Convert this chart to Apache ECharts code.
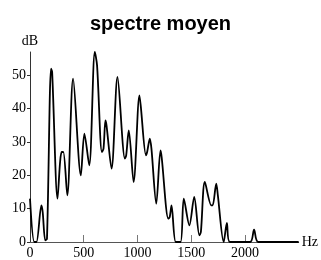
<!DOCTYPE html>
<html>
<head>
<meta charset="utf-8">
<script src="https://cdn.jsdelivr.net/npm/echarts@6/dist/echarts.min.js"></script>
<style>
  html, body { margin: 0; padding: 0; background: #fff; }
  #chart { width: 321px; height: 260px; }
  .preload { position: absolute; left: -999px; top: 0; }
</style>
</head>
<body>
<span class="preload" style="font: 14px 'Liberation Serif'">0 dB Hz</span>
<span class="preload" style="font: bold 20px 'Liberation Sans'">spectre</span>
<div id="chart"></div>
<script>
// spectre moyen : fréquence (Hz) / niveau (dB)
const hz = [0, 40, 60, 106, 118, 142, 158, 196, 206, 256, 280, 295, 310, 347, 401, 473, 506, 551,
  603, 624, 669, 684, 702, 712, 759, 814, 883, 895, 919, 964, 1018, 1030, 1079, 1090, 1115, 1130,
  1175, 1214, 1225, 1287, 1300, 1317, 1356, 1401, 1431, 1483, 1528, 1576, 1590, 1627, 1687, 1700,
  1733, 1748, 1802, 1832, 1859, 2049, 2085, 2124, 2500]
const db = [13, 0, 0, 11, 9, 0.5, 1, 52, 51, 13, 24, 27, 27, 14, 49, 20, 32.5, 23,
  57, 53, 27, 28, 36.5, 35, 22, 49.5, 25, 26, 33.5, 18, 44, 41, 26, 27, 31, 28,
  11.5, 27.5, 25.5, 7, 7.5, 11, 0, 0, 13, 5, 13.5, 2, 3, 18, 11, 11,
  17.5, 14, 0, 5.7, 0, 0, 3.7, 0, 0]
const xLabels = [0, 500, 1000, 1500, 2000]
const xTicks = [500, 1000, 1500, 2000]
const yLabels = [0, 10, 20, 30, 40, 50]

const serif = 'Liberation Serif'
const serifRich = { s: { fontFamily: serif, fontSize: 14, color: '#000' } }

function initEchart() {
  const myChart = echarts.init(document.getElementById('chart'))
  const option = {
    animation: false,
    textStyle: { fontFamily: serif },
    title: {
      text: 'spectre moyen',
      left: 'center',
      top: 9,
      textStyle: {
        fontFamily: 'Liberation Sans',
        fontSize: 20,
        fontWeight: 'bold',
        color: '#000'
      }
    },
    grid: {
      left: 30,
      right: 14,
      top: 52,
      bottom: 18
    },
    xAxis: {
      type: 'value',
      min: 0,
      max: 2500,
      name: '{s|Hz}',
      nameGap: 3,
      nameTextStyle: { fontFamily: serif, fontSize: 14, color: '#000', verticalAlign: 'middle', rich: serifRich },
      splitLine: { show: false },
      axisLine: { lineStyle: { color: '#555', width: 1 } },
      axisTick: {
        inside: true,
        length: 7,
        customValues: xTicks,
        lineStyle: { color: '#777', width: 1 }
      },
      axisLabel: {
        customValues: xLabels,
        formatter: v => '{s|' + v + '}',
        margin: 4,
        fontFamily: serif,
        fontSize: 14,
        color: '#000',
        rich: serifRich
      }
    },
    yAxis: {
      type: 'value',
      min: 0,
      max: 57,
      name: '{s|dB}',
      nameGap: 4,
      nameTextStyle: { fontFamily: serif, fontSize: 14, color: '#000', align: 'center', rich: serifRich },
      splitLine: { show: false },
      axisLine: { show: true, lineStyle: { color: '#333', width: 1 } },
      axisTick: {
        show: true,
        length: 3,
        customValues: yLabels,
        lineStyle: { color: '#333' }
      },
      axisLabel: {
        customValues: yLabels,
        formatter: v => '{s|' + v + '}',
        margin: 4,
        fontFamily: serif,
        fontSize: 14,
        color: '#000',
        rich: serifRich
      }
    },
    series: [
      {
        type: 'line',
        data: hz.map((h, i) => [h, db[i]]),
        smooth: 0.3,
        symbol: 'none',
        lineStyle: { color: '#000', width: 1.8 }
      }
    ]
  }
  myChart.setOption(option)
}

// attendre les polices locales avant de dessiner sur le canvas
Promise.all([
  document.fonts.load('14px "Liberation Serif"'),
  document.fonts.load('bold 20px "Liberation Sans"')
]).then(initEchart, initEchart)
</script>
</body>
</html>
